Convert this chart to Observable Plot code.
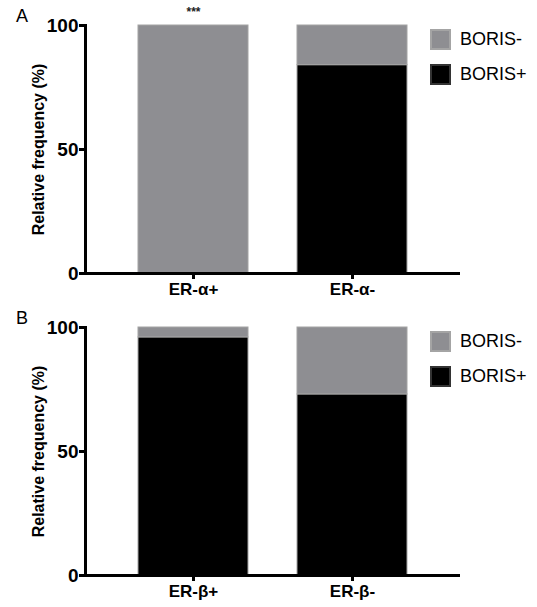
<!DOCTYPE html>
<html><head><meta charset="utf-8">
<script src="https://cdn.jsdelivr.net/npm/d3@7"></script>
<script src="https://cdn.jsdelivr.net/npm/@observablehq/plot@0.6"></script>
<style>
body{margin:0;background:#fff;font-family:"Liberation Sans",Arial,sans-serif;}
#wrap{position:relative;width:537px;height:607px;overflow:hidden;}
.panel{position:absolute;left:0;}
.letter{position:absolute;font-size:18px;line-height:20px;color:#000;}
.legend{position:absolute;left:430px;font-size:18px;color:#000;}
.item{display:flex;align-items:center;height:35px;}
.sw{width:21px;height:21px;box-sizing:border-box;margin-right:9px;}
</style></head><body><div id="wrap"></div>
<script>
const panelLabels = ["A", "B"];
const categoriesA = ["ER-α+", "ER-α-"];
const borisPosA = [0, 84];
const borisNegA = [100, 16];
const significanceA = ["***", ""];
const categoriesB = ["ER-β+", "ER-β-"];
const borisPosB = [96, 73];
const borisNegB = [4, 27];
const significanceB = ["", ""];
const seriesNames = ["BORIS+", "BORIS-"];
const seriesColors = ["#000000", "#8e8e92"];
const legendOrder = ["BORIS-", "BORIS+"];
const yTicks = [0, 50, 100];
const yLabel = "Relative frequency (%)";

const FONT = '"Liberation Sans", Arial, sans-serif';

function makePanel(cats, pos, neg, sig, height, marginBottom) {
  const rows = [];
  cats.forEach((c, i) => {
    rows.push({cat: c, series: seriesNames[0], value: pos[i]});
    rows.push({cat: c, series: seriesNames[1], value: neg[i]});
  });
  const sigRows = cats.map((c, i) => ({cat: c, label: sig[i], top: pos[i] + neg[i]})).filter(d => d.label);
  return Plot.plot({
    width: 537, height, marginLeft: 85, marginRight: 77, marginTop: 25, marginBottom,
    style: {fontFamily: FONT, background: "transparent", overflow: "visible"},
    x: {domain: cats, paddingInner: 0.31, paddingOuter: 0.33, label: null},
    y: {domain: [0, 100], label: null},
    color: {domain: seriesNames, range: seriesColors},
    marks: [
      Plot.barY(rows, {x: "cat", y: "value", fill: "series", stroke: "#a4a4a4", strokeWidth: 1}),
      Plot.text(sigRows, {x: "cat", y: "top", text: "label", dy: -13, fontSize: 12, fontWeight: "bold", fill: "#222"}),
      Plot.axisY({ticks: yTicks, tickSize: 6, tickPadding: 1, strokeWidth: 3, fontSize: 19, fontWeight: "bold", fill: "#000", label: null}),
      Plot.axisX({tickSize: 6, tickPadding: 3, strokeWidth: 3, fontSize: 17, fontWeight: "bold", fill: "#000", label: null}),
      Plot.text([yLabel], {frameAnchor: "left", textAnchor: "middle", dx: -47, rotate: -90, fontSize: 16, fontWeight: "bold", fill: "#000"}),
      Plot.frame({anchor: "left", strokeWidth: 3, stroke: "#000"}),
      Plot.ruleY([0], {strokeWidth: 3, stroke: "#000"})
    ]
  });
}

const wrap = document.getElementById("wrap");
const panels = [
  {cats: categoriesA, pos: borisPosA, neg: borisNegA, sig: significanceA, top: 0, h: 302, mb: 29},
  {cats: categoriesB, pos: borisPosB, neg: borisNegB, sig: significanceB, top: 302, h: 305, mb: 32}
];
panels.forEach((p, k) => {
  const div = document.createElement("div");
  div.className = "panel";
  div.style.top = p.top + "px";
  div.appendChild(makePanel(p.cats, p.pos, p.neg, p.sig, p.h, p.mb));
  wrap.appendChild(div);
  const letter = document.createElement("div");
  letter.className = "letter";
  letter.textContent = panelLabels[k];
  letter.style.left = "16px";
  letter.style.top = (p.top + 6) + "px";
  wrap.appendChild(letter);
  const lg = document.createElement("div");
  lg.className = "legend";
  lg.style.top = (p.top + 22) + "px";
  legendOrder.forEach(name => {
    const it = document.createElement("div");
    it.className = "item";
    const sw = document.createElement("div");
    sw.className = "sw";
    const col = seriesColors[seriesNames.indexOf(name)];
    sw.style.background = col;
    sw.style.border = "2px solid " + (name === "BORIS-" ? "#a4a4a4" : "#333");
    const tx = document.createElement("span");
    tx.textContent = name;
    it.appendChild(sw); it.appendChild(tx);
    lg.appendChild(it);
  });
  wrap.appendChild(lg);
});
</script></body></html>
